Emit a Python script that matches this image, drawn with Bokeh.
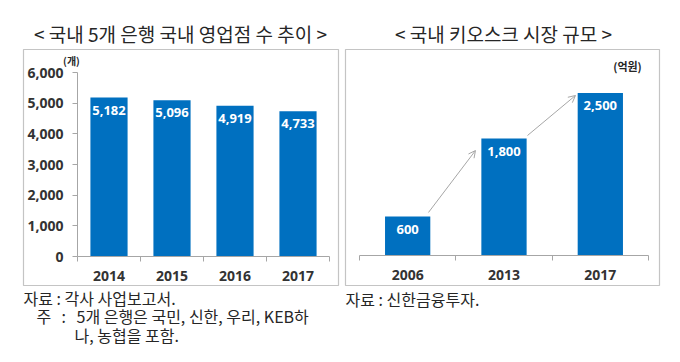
from bokeh.plotting import figure
from bokeh.models import (ColumnDataSource, LabelSet, Label, FixedTicker,
                          NumeralTickFormatter, Arrow, OpenHead, Range1d)
from bokeh.core.properties import value
from bokeh.layouts import row
from bokeh.embed import file_html
from bokeh.resources import INLINE

# ---------------- data ----------------
branch_years = ["2014", "2015", "2016", "2017"]
branch_counts = [5182, 5096, 4919, 4733]
branch_yticks = [0, 1000, 2000, 3000, 4000, 5000, 6000]

kiosk_years = ["2006", "2013", "2017"]
kiosk_sizes = [600, 1800, 2500]

left_title = "< 국내 5개 은행 국내 영업점 수 추이 >"
right_title = "< 국내 키오스크 시장 규모 >"
left_unit = "(개)"
right_unit = "(억원)"
left_src_note = "자료 : 각사 사업보고서."
left_note_1 = "5개 은행은 국민, 신한, 우리, KEB하"
left_note_2 = "나, 농협을 포함."
right_src_note = "자료 : 신한금융투자."

# ---------------- style ----------------
BLUE = "#0070C0"
KR = "Noto Sans CJK KR"
NUM = "Open Sans"
AXIS_GRAY = "#a6a6a6"
BOX_GRAY = "#c4c4c4"
TXT = "#262626"
LBL = "#333333"
W, H = 340, 362
TITLE_SIZE = 19
NOTE_SIZE = 16


class Mapper:
    """pixel <-> data conversion for a figure whose frame fills the canvas"""
    def __init__(self, x0, xstep, y0, yscale):
        self.x0, self.xstep, self.y0, self.yscale = x0, xstep, y0, yscale

    def x(self, px):
        return (px - self.x0) / self.xstep

    def y(self, py):
        return (self.y0 - py) / self.yscale


def make_fig(m):
    p = figure(width=W, height=H, x_range=Range1d(m.x(0), m.x(W)), y_range=Range1d(m.y(H), m.y(0)),
               output_backend="svg", toolbar_location=None, tools="", min_border=0)
    p.outline_line_color = None
    p.xgrid.grid_line_color = None
    p.ygrid.grid_line_color = None
    p.background_fill_color = "white"
    p.border_fill_color = "white"
    return p


def text(p, m, px, py, s, size, font=KR, style="normal", color=TXT, align="left"):
    p.add_layout(Label(x=m.x(px), y=m.y(py), text=s, text_font=font,
                       text_font_size=f"{size}px", text_font_style=style,
                       text_color=color, text_align=align, text_baseline="middle"))


def box(p, m, l, t, r, b):
    p.quad(left=m.x(l), right=m.x(r), top=m.y(t), bottom=m.y(b),
           fill_color=None, line_color=BOX_GRAY, line_width=1.2)


def style_xaxis(p, n):
    ax = p.xaxis
    ax.fixed_location = 0
    ax.bounds = (0, n)
    ax.ticker = FixedTicker(ticks=[i + 0.5 for i in range(n)], minor_ticks=list(range(n + 1)))
    ax.axis_line_color = AXIS_GRAY
    ax.major_tick_out = 0
    ax.major_tick_in = 0
    ax.minor_tick_out = 5
    ax.minor_tick_in = 0
    ax.minor_tick_line_color = AXIS_GRAY
    ax.major_label_standoff = 9
    ax.major_label_text_font = NUM
    ax.major_label_text_font_style = "bold"
    ax.major_label_text_font_size = "14px"
    ax.major_label_text_color = LBL


# ---------------- left chart ----------------
m1 = Mapper(77, 63, 256, 184 / 6000)
p1 = make_fig(m1)
box(p1, m1, 23, 49, 338, 285)
src1 = ColumnDataSource(dict(x=[i + 0.5 for i in range(len(branch_years))], top=branch_counts,
                             lab=[f"{v:,}" for v in branch_counts]))
p1.vbar(x="x", top="top", width=0.59, source=src1, fill_color=BLUE, line_color=None)
p1.add_layout(LabelSet(x="x", y="top", text="lab", source=src1, y_offset=-8,
                       text_align="center", text_baseline="top", text_color="white",
                       text_font=value(NUM), text_font_size="13px", text_font_style="bold"))
style_xaxis(p1, len(branch_years))
p1.xaxis.major_label_overrides = {i + 0.5: y for i, y in enumerate(branch_years)}
ya = p1.yaxis
ya.fixed_location = 0
ya.bounds = (0, branch_yticks[-1])
ya.ticker = FixedTicker(ticks=branch_yticks, minor_ticks=[])
ya.formatter = NumeralTickFormatter(format="0,0")
ya.axis_line_color = AXIS_GRAY
ya.major_tick_out = 5
ya.major_tick_in = 0
ya.major_tick_line_color = AXIS_GRAY
ya.minor_tick_line_color = None
ya.major_label_standoff = 9
ya.major_label_text_font = NUM
ya.major_label_text_font_style = "bold"
ya.major_label_text_font_size = "14px"
ya.major_label_text_color = LBL

text(p1, m1, 180, 33, left_title, TITLE_SIZE, align="center")
text(p1, m1, 71, 60, left_unit, 10, style="bold", align="center")
text(p1, m1, 23, 297, left_src_note, NOTE_SIZE)
text(p1, m1, 36, 315, "주", NOTE_SIZE)
text(p1, m1, 61, 315, ":", NOTE_SIZE)
text(p1, m1, 76, 315, left_note_1, NOTE_SIZE)
text(p1, m1, 74, 334, left_note_2, NOTE_SIZE)

# ---------------- right chart ----------------
m2 = Mapper(19, 96.33, 255, 0.065)
p2 = make_fig(m2)
box(p2, m2, 5, 49, 319, 285)
src2 = ColumnDataSource(dict(x=[i + 0.5 for i in range(len(kiosk_years))], top=kiosk_sizes,
                             lab=[f"{v:,}" for v in kiosk_sizes]))
p2.vbar(x="x", top="top", width=0.47, source=src2, fill_color=BLUE, line_color=None)
p2.add_layout(LabelSet(x="x", y="top", text="lab", source=src2, y_offset=-8,
                       text_align="center", text_baseline="top", text_color="white",
                       text_font=value(NUM), text_font_size="13px", text_font_style="bold"))
p2.yaxis.visible = False
style_xaxis(p2, len(kiosk_years))
p2.xaxis.major_label_overrides = {i + 0.5: y for i, y in enumerate(kiosk_years)}

# growth arrows between bars (annotation positions in data units)
arrow_starts = [(0.716, 662), (1.744, 1846)]
arrow_ends = [(1.204, 1615), (2.242, 2462)]
for (xs, ys), (xe, ye) in zip(arrow_starts, arrow_ends):
    p2.add_layout(Arrow(x_start=xs, y_start=ys, x_end=xe, y_end=ye,
                        line_color="#a6a6a6", line_width=1,
                        end=OpenHead(size=7, line_color="#a6a6a6", line_width=1)))

text(p2, m2, 163, 33, right_title, TITLE_SIZE, align="center")
text(p2, m2, 287, 65, right_unit, 11, style="bold", align="center")
text(p2, m2, 5, 298, right_src_note, NOTE_SIZE)

layout = row(p1, p2)
open("out.html", "w").write(file_html(layout, INLINE))
